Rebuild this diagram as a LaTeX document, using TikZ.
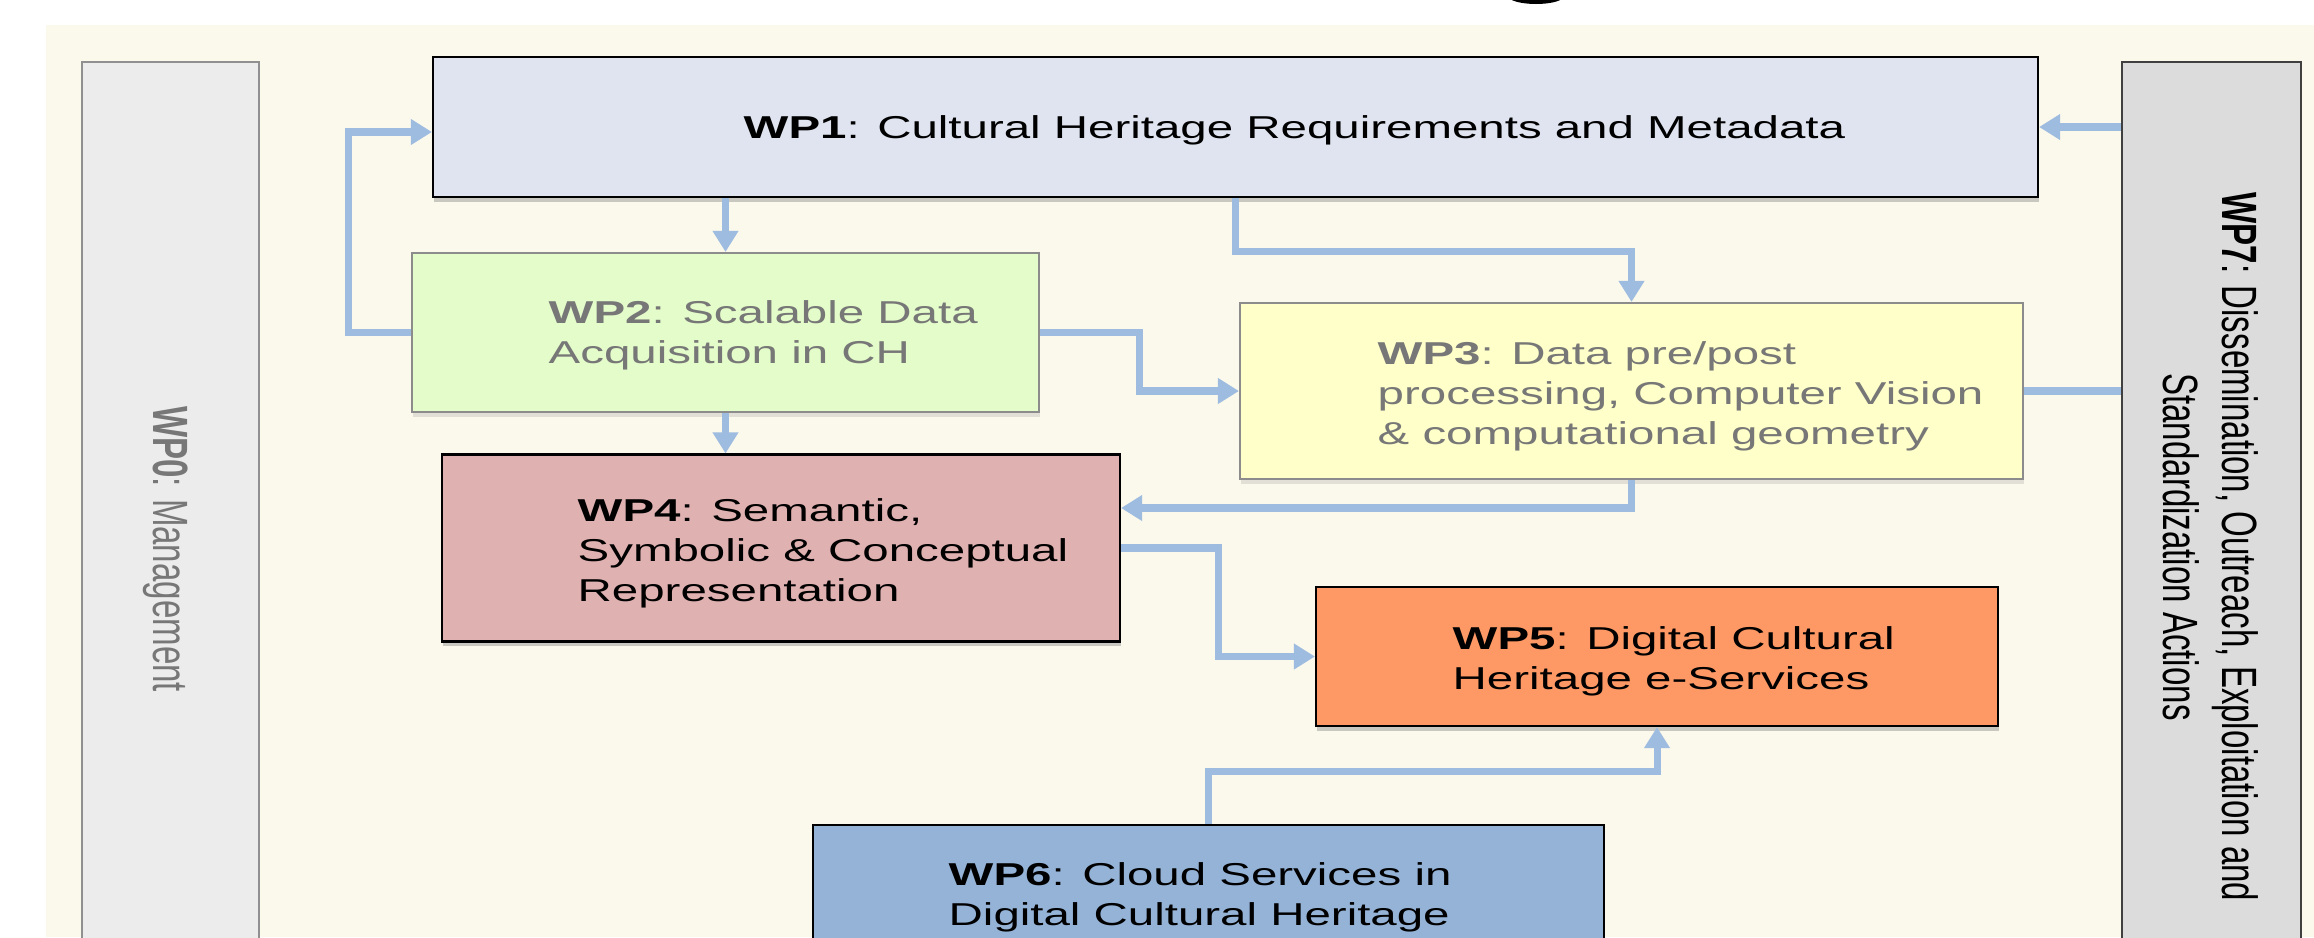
\documentclass[tikz,border=0pt]{standalone}
\usepackage{fontspec}
\setmainfont{Liberation Sans}[FakeStretch=1.5]
\newfontfamily\sidefont{Liberation Sans}[FakeStretch=0.667]
\usetikzlibrary{arrows.meta, shadows}

\definecolor{paper}{HTML}{FBF8EC}
\definecolor{wpzero}{HTML}{ECECEC}
\definecolor{wpzeroline}{HTML}{909090}
\definecolor{wpseven}{HTML}{DCDCDC}
\definecolor{wpsevenline}{HTML}{404040}
\definecolor{wpone}{HTML}{DFE4F0}
\definecolor{wptwo}{HTML}{E3FCC9}
\definecolor{wpthree}{HTML}{FFFFC9}
\definecolor{wpfour}{HTML}{E0B1B1}
\definecolor{wpfive}{HTML}{FE9966}
\definecolor{wpsix}{HTML}{95B3D7}
\definecolor{linkblue}{HTML}{9EBCE0}
\definecolor{softgray}{HTML}{777777}
\definecolor{boxgray}{HTML}{8C8C8C}

\tikzset{
  wpbox/.style={rectangle, draw=black, line width=0.6pt, inner sep=0pt},
  darkshadow/.style={drop shadow={shadow xshift=0.4pt, shadow yshift=-1.3pt, opacity=0.4}},
  lightshadow/.style={drop shadow={shadow xshift=0.4pt, shadow yshift=-1.3pt, opacity=0.2}},
  wptext/.style={anchor=north west, inner sep=0pt, align=left, font=\fontsize{9}{11.4}\selectfont},
  sidetext/.style={rotate=-90, align=center, inner sep=0pt, font=\sidefont\fontsize{14.1}{16.7}\selectfont},
  link/.style={draw=linkblue, line width=2pt, -{Triangle[length=6pt, width=7pt]}},
}

\begin{document}
\begin{tikzpicture}[x=0.1mm, y=-0.1mm]
  \useasboundingbox (0,0) rectangle (2314,937);
  \fill[paper] (46,25) rectangle (2314,937);
  % bottom of the cut-off title
  \fill (1536,-4) ellipse [x radius=2.8mm, y radius=0.8mm];

  % side bars
  \node[wpbox, fill=wpzero, draw=wpzeroline, minimum width=17.7mm, minimum height=88.3mm] (WP0) at (170.5,503.5) {};
  \node[wpbox, fill=wpseven, draw=wpsevenline, minimum width=17.9mm, minimum height=88.3mm] (WP7) at (2211.5,503.5) {};
  \node[sidetext, text=softgray] (WP0txt) at (166,549) {\textbf{WP0}: Management};
  \node[sidetext] (WP7txt) at (2210.5,547) {\textbf{WP7}: Dissemination, Outreach, Exploitation and\\Standardization Actions};

  % work packages
  \node[wpbox, darkshadow, fill=wpone, minimum width=160.5mm, minimum height=14mm] (WP1) at (1235.5,127) {};
  \node[wpbox, lightshadow, fill=wptwo, draw=boxgray, minimum width=62.7mm, minimum height=15.9mm] (WP2) at (725.5,332.5) {};
  \node[wpbox, lightshadow, fill=wpthree, draw=boxgray, minimum width=78.3mm, minimum height=17.6mm] (WP3) at (1631.5,391) {};
  \node[wpbox, darkshadow, fill=wpfour, minimum width=67.8mm, minimum height=18.7mm] (WP4) at (781,548) {};
  \node[wpbox, darkshadow, fill=wpfive, minimum width=68.2mm, minimum height=13.9mm] (WP5) at (1657,656.5) {};
  \node[wpbox, fill=wpsix, minimum width=79.1mm, minimum height=12.5mm] (WP6) at (1208.5,887.5) {};

  \node[wptext] (WP1txt) at (743,115) {\textbf{WP1}: Cultural Heritage Requirements and Metadata};
  \node[wptext, text=softgray] (WP2txt) at (548,300) {\textbf{WP2}: Scalable Data\\Acquisition in CH};
  \node[wptext, text=softgray] (WP3txt) at (1377,341) {\textbf{WP3}: Data pre/post\\processing, Computer Vision\\\& computational geometry};
  \node[wptext] (WP4txt) at (577,498) {\textbf{WP4}: Semantic,\\Symbolic \& Conceptual\\Representation};
  \node[wptext] (WP5txt) at (1452,626) {\textbf{WP5}: Digital Cultural\\Heritage e-Services};
  \node[wptext] (WP6txt) at (948,862) {\textbf{WP6}: Cloud Services in\\Digital Cultural Heritage};

  % links
  \draw[link] (WP2.west) -- ++(-62,0) |- ([yshift=-0.5mm]WP1.west);
  \draw[link] (WP2.north |- WP1.south) -- (WP2.north);
  \draw[link] (WP1.south) -- ++(0,53) -| (WP3.north);
  \draw[link] (WP2.east) -- ++(99,0) |- (WP3.west);
  \draw[link] (WP2.south) -- (WP2.south |- WP4.north);
  \draw[link] (WP3.south) |- ([yshift=4mm]WP4.east);
  \draw[link] (WP4.east) -- ++(97,0) |- (WP5.west);
  \draw[link] (WP6.north) -- ++(0,-52) -| (WP5.south);
  \draw[link] (WP7.west |- WP1.east) -- (WP1.east);
  \draw[link, -] (WP3.east) -- (WP3.east -| WP7.west);
\end{tikzpicture}
\end{document}
